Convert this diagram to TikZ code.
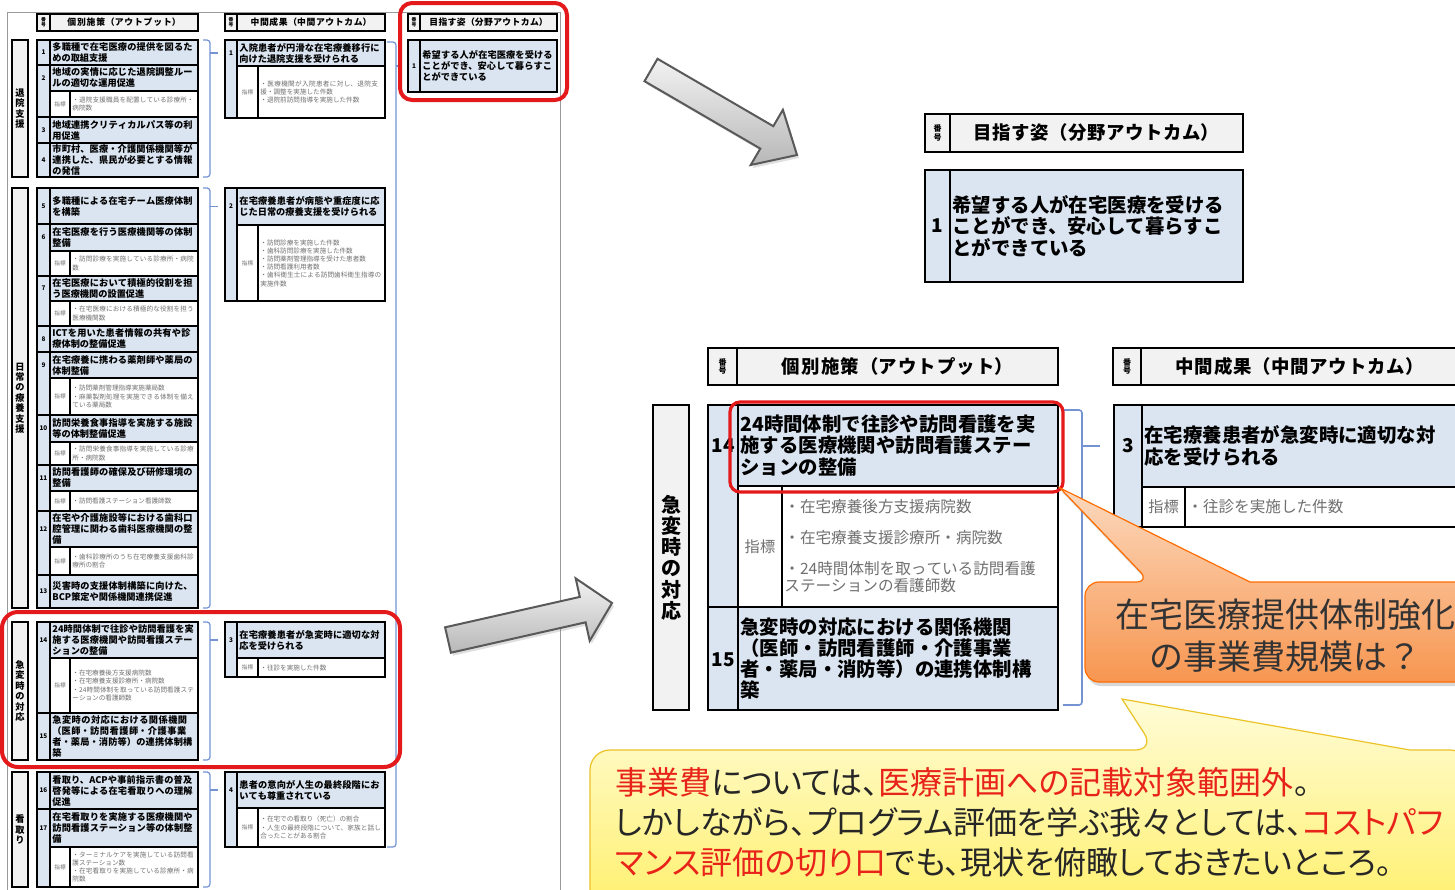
\documentclass[tikz,border=0pt]{standalone}
\usepackage{fontspec}
\setmainfont{Noto Sans CJK JP}
\newfontfamily\paltfont{Noto Sans CJK JP}[RawFeature=+palt]
\XeTeXlinebreaklocale "ja"
\XeTeXlinebreakskip=0pt plus 0.5pt
\usetikzlibrary{calc,shadows}
\definecolor{hdr}{HTML}{F2F2F2}
\definecolor{lblue}{HTML}{DBE5F1}
\definecolor{brkc}{HTML}{7393D3}
\definecolor{kgray}{HTML}{707070}
\definecolor{redhl}{HTML}{E3191B}
\definecolor{jred}{HTML}{E8231A}
\definecolor{frameg}{HTML}{9A9A9A}

\newcommand\cellbox[7]{%
  \pgfmathsetmacro\cbw{(#4-#2)*0.5}%
  \pgfmathsetmacro\cbh{(#5-#3)*0.5}%
  \pgfmathsetmacro\cbt{max((#4-#2)*0.5-2.4,1)}%
  \node[cellbase,#6,minimum width=\cbw pt,minimum height=\cbh pt,text width=\cbt pt] (#1) at (#2,#3) {#7};}

% thumbnail item: id, number, y1, y title bottom, y2, title
\newcommand\titem[6]{%
  \cellbox{n#1}{37}{#3}{50}{#5}{tb,bluec}{}
  \cellbox{i#1}{50}{#3}{198}{#4}{tb,bluec,ttl}{#6}
  \node[tnum] (no#1) at (43.5,{(#3+#4)/2}) {#2};}
% thumbnail kpi: id, y1, y2, text
\newcommand\tkpi[4]{%
  \cellbox{kl#1}{50}{#2}{70}{#3}{tb,whitec,tkl}{指標}
  \cellbox{k#1}{70}{#2}{198}{#3}{tb,whitec,tk}{#4}}
% thumbnail middle: id, number, y1, y title bottom, y2, title, kpi
\newcommand\tmid[7]{%
  \cellbox{mn#1}{225}{#3}{237}{#5}{tb,bluec}{}
  \cellbox{m#1}{237}{#3}{385}{#4}{tb,bluec,ttl}{#6}
  \cellbox{mkl#1}{237}{#4}{258}{#5}{tb,whitec,tkl}{指標}
  \cellbox{mk#1}{258}{#4}{385}{#5}{tb,whitec,tk}{#7}
  \node[tnum] (mno#1) at (231,{(#3+#4)/2}) {#2};}

\tikzset{
  cellbase/.style={anchor=north west, draw=black, inner xsep=1.2pt, inner ysep=0pt, outer sep=0pt, align=left},
  tb/.style={line width=0.55pt},
  mb/.style={line width=1pt},
  hdrc/.style={fill=hdr, align=center},
  bluec/.style={fill=lblue},
  whitec/.style={fill=white},
  ttl/.style={font={\fontsize{4.6}{5.5}\selectfont\bfseries}},
  tk/.style={font={\fontsize{3.3}{4.1}\selectfont}, text=kgray},
  tkl/.style={font={\fontsize{2.8}{3}\selectfont}, text=kgray, align=center},
  tsec/.style={font={\fontsize{4.6}{5.2}\selectfont\bfseries}},
  thd/.style={font={\fontsize{4.4}{5}\selectfont\bfseries}},
  tnh/.style={font={\fontsize{2.4}{2.6}\selectfont\bfseries}},
  tnum/.style={font={\fontsize{3.2}{3.2}\selectfont\bfseries}, inner sep=0pt},
  mttl/.style={font={\fontsize{9.7}{10.6}\selectfont\bfseries}},
  mk/.style={font={\fontsize{7.8}{8.5}\selectfont}, text=kgray},
  mkl/.style={font={\fontsize{7.6}{8}\selectfont}, text=kgray, align=center},
  msec/.style={font={\fontsize{10}{10.6}\selectfont\bfseries}},
  mhd/.style={font={\fontsize{9.2}{10}\selectfont\bfseries}},
  mnh/.style={font={\fontsize{4}{4.4}\selectfont\bfseries}},
  mnum/.style={font={\fontsize{9.5}{9.5}\selectfont\bfseries}, inner sep=0pt},
  brkline/.style={draw=brkc, line width=0.6pt, rounded corners=1.5pt},
  redbox/.style={draw=redhl, line width=2pt, rounded corners=6pt},
  bigarrow/.style={draw=black!65, line width=1pt, top color=black!5, bottom color=black!28,
    drop shadow={opacity=0.25, shadow xshift=1pt, shadow yshift=-1.5pt}},
  yline/.style={font={\paltfont\fontsize{16}{20}\selectfont}, text=black!85, anchor=west, inner sep=0pt},
}

\begin{document}
\begin{tikzpicture}[x=0.5pt,y=-0.5pt]
\useasboundingbox (0,0) rectangle (1455,889);
\fill[white] (0,0) rectangle (1455,889);

% ===== thumbnail frame =====
\draw[frameg, line width=0.5pt] (7,12) -- (560,12) -- (560,900) (7,12) -- (7,900);

% headers
\cellbox{h1n}{37}{14}{50}{31}{tb,hdrc,tnh}{番\\号}
\cellbox{h1}{50}{14}{198}{31}{tb,hdrc,thd}{個別施策（アウトプット）}
\cellbox{h2n}{225}{14}{237}{31}{tb,hdrc,tnh}{番\\号}
\cellbox{h2}{237}{14}{385}{31}{tb,hdrc,thd}{中間成果（中間アウトカム）}
\cellbox{h3n}{408}{14}{420}{31}{tb,hdrc,tnh}{番\\号}
\cellbox{h3}{420}{14}{557}{31}{tb,hdrc,thd}{目指す姿（分野アウトカム）}

% section 1
\cellbox{s1}{12}{40}{28}{177}{tb,hdrc,tsec}{退\\院\\支\\援}
\titem{1}{1}{40}{65}{65}{多職種で在宅医療の提供を図るための取組支援}
\titem{2}{2}{65}{91}{117}{地域の実情に応じた退院調整ルールの適切な運用促進}
\tkpi{2}{91}{117}{・退院支援職員を配置している診療所・病院数}
\titem{3}{3}{117}{143}{143}{地域連携クリティカルパス等の利用促進}
\titem{4}{4}{143}{177}{177}{市町村、医療・介護関係機関等が連携した、県民が必要とする情報の発信}
\tmid{1}{1}{40}{66}{118}{入院患者が円滑な在宅療養移行に向けた退院支援を受けられる}{・医療機関が入院患者に対し、退院支援・調整を実施した件数\\・退院前訪問指導を実施した件数}

% final (thumbnail)
\cellbox{f1n}{408}{40}{420}{92}{tb,bluec}{}
\cellbox{f1}{420}{40}{557}{92}{tb,bluec,ttl}{希望する人が在宅医療を受けることができ、安心して暮らすことができている}
\node[tnum] (fno1) at (414,66) {1};

% section 2
\cellbox{s2}{12}{188}{28}{608}{tb,hdrc,tsec}{日\\常\\の\\療\\養\\支\\援}
\titem{5}{5}{188}{224}{224}{多職種による在宅チーム医療体制を構築}
\titem{6}{6}{224}{251}{276}{在宅医療を行う医療機関等の体制整備}
\tkpi{6}{251}{276}{・訪問診療を実施している診療所・病院数}
\titem{7}{7}{276}{301}{326}{在宅医療において積極的役割を担う医療機関の設置促進}
\tkpi{7}{301}{326}{・在宅医療における積極的な役割を担う医療機関数}
\titem{8}{8}{326}{352}{352}{ICTを用いた患者情報の共有や診療体制の整備促進}
\titem{9}{9}{352}{378}{415}{在宅療養に携わる薬剤師や薬局の体制整備}
\tkpi{9}{378}{415}{・訪問薬剤管理指導実施薬局数\\・麻薬製剤処理を実施できる体制を備えている薬局数}
\titem{10}{10}{415}{442}{465}{訪問栄養食事指導を実施する施設等の体制整備促進}
\tkpi{10}{442}{465}{・訪問栄養食事指導を実施している診療所・病院数}
\titem{11}{11}{465}{491}{511}{訪問看護師の確保及び研修環境の整備}
\tkpi{11}{491}{511}{・訪問看護ステーション看護師数}
\titem{12}{12}{511}{547}{575}{在宅や介護施設等における歯科口腔管理に関わる歯科医療機関の整備}
\tkpi{12}{547}{575}{・歯科診療所のうち在宅療養支援歯科診療所の割合}
\titem{13}{13}{575}{608}{608}{災害時の支援体制構築に向けた、BCP策定や関係機関連携促進}
\tmid{2}{2}{188}{225}{301}{在宅療養患者が病態や重症度に応じた日常の療養支援を受けられる}{・訪問診療を実施した件数\\・歯科訪問診療を実施した件数\\・訪問薬剤管理指導を受けた患者数\\・訪問看護利用者数\\・歯科衛生士による訪問歯科衛生指導の実施件数}

% section 3
\cellbox{s3}{12}{622}{28}{760}{tb,hdrc,tsec}{急\\変\\時\\の\\対\\応}
\titem{14}{14}{622}{658}{713}{24時間体制で往診や訪問看護を実施する医療機関や訪問看護ステーションの整備}
\tkpi{14}{658}{713}{・在宅療養後方支援病院数\\・在宅療養支援診療所・病院数\\・24時間体制を取っている訪問看護ステーションの看護師数}
\titem{15}{15}{713}{760}{760}{急変時の対応における関係機関（医師・訪問看護師・介護事業者・薬局・消防等）の連携体制構築}
\tmid{3}{3}{622}{658}{677}{在宅療養患者が急変時に適切な対応を受けられる}{・往診を実施した件数}

% section 4
\cellbox{s4}{12}{772}{28}{887}{tb,hdrc,tsec}{看\\取\\り}
\titem{16}{16}{772}{809}{809}{看取り、ACPや事前指示書の普及啓発等による在宅看取りへの理解促進}
\titem{17}{17}{809}{847}{887}{在宅看取りを実施する医療機関や訪問看護ステーション等の体制整備}
\tkpi{17}{847}{887}{・ターミナルケアを実施している訪問看護ステーション数\\・在宅看取りを実施している診療所・病院数}
\tmid{4}{4}{772}{808}{847}{患者の意向が人生の最終段階においても尊重されている}{・在宅での看取り（死亡）の割合\\・人生の最終段階について、家族と話し合ったことがある割合}

% thumbnail brackets
\draw[brkline] ([xshift=2.5pt]i1.north east) -- ([xshift=6pt]i1.north east) coordinate (bk1) -- ([xshift=6pt]i4.south east) -- ([xshift=2.5pt]i4.south east);
\draw[brkline] (bk1 |- m1.west) -- ([xshift=-3.5pt]mn1.west |- m1.west);
\draw[brkline] ([xshift=2.5pt]i5.north east) -- ([xshift=6pt]i5.north east) coordinate (bk2) -- ([xshift=6pt]i13.south east) -- ([xshift=2.5pt]i13.south east);
\draw[brkline] (bk2 |- m2.west) -- ([xshift=-3.5pt]mn2.west |- m2.west);
\draw[brkline] ([xshift=2.5pt]i14.north east) -- ([xshift=6pt]i14.north east) coordinate (bk3) -- ([xshift=6pt]i15.south east) -- ([xshift=2.5pt]i15.south east);
\draw[brkline] (bk3 |- m3.west) -- ([xshift=-3.5pt]mn3.west |- m3.west);
\draw[brkline] ([xshift=2.5pt]i16.north east) -- ([xshift=6pt]i16.north east) coordinate (bk4) -- ([xshift=6pt]k17.south east) -- ([xshift=2.5pt]k17.south east);
\draw[brkline] (bk4 |- m4.west) -- ([xshift=-3.5pt]mn4.west |- m4.west);
\draw[brkline] ([xshift=1pt,yshift=-1pt]m1.north east) -- ([xshift=5.5pt,yshift=-1pt]m1.north east) coordinate (bkb) -- ([xshift=5.5pt]mk4.south east) -- ([xshift=1pt]mk4.south east);
\draw[brkline] (bkb |- f1.west) -- ([xshift=-3.5pt]f1n.west);

% red highlights (thumbnail)
\draw[redbox] (400,3) rectangle (567,100);
\draw[redbox, rounded corners=8pt] (2,612) rectangle (400,767);

% ===== big arrows =====
\path[bigarrow] (644.5,81.2) -- (760.3,148.6) -- (750.7,165) -- (797,155) -- (782.9,109.8) -- (773.3,126.2) -- (657.5,58.8) -- cycle;
\path[bigarrow] (450.9,652.7) -- (585.6,622.3) -- (589.7,640.8) -- (612,603) -- (575.7,578.4) -- (579.8,596.9) -- (445.1,627.3) -- cycle;

% ===== magnified: final outcome =====
\cellbox{Mfhn}{925}{114}{950}{152}{mb,hdrc,mnh}{番\\号}
\cellbox{Mfh}{950}{114}{1243}{152}{mb,hdrc,mhd}{目指す姿（分野アウトカム）}
\cellbox{Mfn}{925}{170}{950}{282}{mb,bluec}{}
\cellbox{Mf}{950}{170}{1243}{282}{mb,bluec,mttl}{希望する人が在宅医療を受ける\\ことができ、安心して暮らすこ\\とができている}
\node[mnum] (Mfno) at (937.5,226) {1};

% ===== magnified: outputs =====
\cellbox{Mh1n}{708}{348}{737}{385}{mb,hdrc,mnh}{番\\号}
\cellbox{Mh1}{737}{348}{1058}{385}{mb,hdrc,mhd}{個別施策（アウトプット）}
\cellbox{Ms3}{653}{405}{689}{710}{mb,hdrc,msec}{急\\変\\時\\の\\対\\応}
\cellbox{Mn14}{708}{405}{738}{607}{mb,bluec}{}
\cellbox{Mi14}{738}{405}{1058}{486}{mb,bluec,mttl}{24時間体制で往診や訪問看護を実\\施する医療機関や訪問看護ステー\\ションの整備}
\cellbox{Mkl14}{738}{486}{782}{607}{mb,whitec,mkl}{指標}
\cellbox{Mk14}{782}{486}{1058}{607}{mb,whitec,mk}{・在宅療養後方支援病院数\\[7pt]・在宅療養支援診療所・病院数\\[7pt]・24時間体制を取っている訪問看護\\ステーションの看護師数}
\node[mnum] (Mno14) at (723,446) {14};
\cellbox{Mn15}{708}{607}{738}{710}{mb,bluec}{}
\cellbox{Mi15}{738}{607}{1058}{710}{mb,bluec,mttl}{急変時の対応における関係機関\\（医師・訪問看護師・介護事業\\者・薬局・消防等）の連携体制構\\築}
\node[mnum] (Mno15) at (723,660) {15};

% ===== magnified: middle outcome =====
\cellbox{Mh2n}{1113}{348}{1141}{385}{mb,hdrc,mnh}{番\\号}
\cellbox{Mh2}{1141}{348}{1458}{385}{mb,hdrc,mhd}{中間成果（中間アウトカム）}
\cellbox{Mn3}{1114}{405}{1142}{527}{mb,bluec}{}
\cellbox{Mm3}{1142}{405}{1458}{487}{mb,bluec,mttl}{在宅療養患者が急変時に適切な対\\応を受けられる}
\cellbox{Mkl3}{1142}{487}{1185}{527}{mb,whitec,mkl}{指標}
\cellbox{Mk3}{1185}{487}{1458}{527}{mb,whitec,mk}{・往診を実施した件数}
\node[mnum] (Mno3) at (1128,446) {3};

% magnified bracket
\draw[brkline, line width=0.8pt] ([xshift=2.5pt,yshift=-2.5pt]Mi14.north east) -- ([xshift=12pt,yshift=-2.5pt]Mi14.north east) coordinate (bkM) -- ([xshift=12pt,yshift=2.5pt]Mi15.south east) -- ([xshift=2.5pt,yshift=2.5pt]Mi15.south east);
\draw[brkline, line width=0.8pt] (bkM |- Mm3.west) -- ([xshift=-7pt]Mn3.west |- Mm3.west);

% red highlight (magnified)
\draw[redbox, line width=1.6pt, rounded corners=5pt] (730,402) rectangle (1063,492);

% ===== callouts =====
\path[draw=orange!85!red, line width=0.6pt, top color={rgb,255:red,252;green,217;blue,190}, bottom color={rgb,255:red,247;green,150;blue,80},
  drop shadow={opacity=0.3, shadow xshift=1pt, shadow yshift=-2pt}]
  (1085,630) [rounded corners=7pt] -- (1085,582) -- (1150,582) [sharp corners] -- (1060,488) -- (1250,582) [rounded corners=7pt] -- (1470,582) -- (1470,682) -- (1085,682) -- cycle;
\node[font={\fontsize{17}{21}\selectfont}, text=black!80, align=center, inner sep=0pt] (ocall) at (1285,636) {在宅医療提供体制強化\\の事業費規模は？};

\path[draw={rgb,255:red,235;green,195;blue,40}, line width=0.6pt, top color={rgb,255:red,255;green,252;blue,215}, bottom color={rgb,255:red,255;green,240;blue,110},
  drop shadow={opacity=0.25, shadow xshift=1pt, shadow yshift=-2pt}]
  (590,820) [rounded corners=10pt] -- (590,750) -- (1155,750) [sharp corners] -- (1122,699) -- (1410,750) [rounded corners=10pt] -- (1470,750) -- (1470,910) -- (590,910) -- cycle;
\node[yline] (yl1) at (615,782) {\textcolor{jred}{事業費}については、\textcolor{jred}{医療計画への記載対象範囲外}。};
\node[yline] (yl2) at (615,822) {しかしながら、プログラム評価を学ぶ我々としては、\textcolor{jred}{コストパフ}};
\node[yline] (yl3) at (615,862) {\textcolor{jred}{マンス評価の切り口}でも、現状を俯瞰しておきたいところ。};
\end{tikzpicture}
\end{document}
